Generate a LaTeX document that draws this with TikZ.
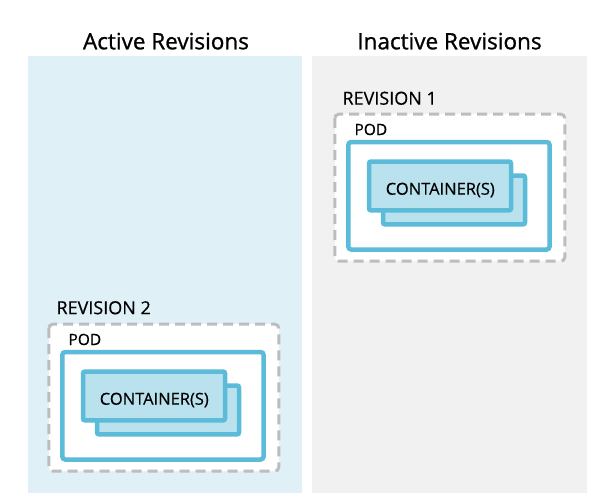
\documentclass[tikz,border=0pt]{standalone}
\usepackage{fontspec}
\setmainfont{Open Sans}
\newfontfamily\titlefont{Open Sans}[FakeBold=1]
\newfontfamily\labelfont{Open Sans}[FakeBold=0.4]
\begin{document}
\begin{tikzpicture}[x=1pt,y=-1pt,
  panelA/.style={fill=activebg,draw=none},
  panelB/.style={fill=inactivebg,draw=none},
  revbox/.style={draw=dashgray,fill=white,line width=3pt,dash pattern=on 10pt off 6pt,rounded corners=4pt},
  podbox/.style={draw=azure,fill=white,line width=4.5pt,rounded corners=3pt},
  contbox/.style={draw=azure,fill=lightazure,line width=4.5pt,rounded corners=2pt},
  title/.style={anchor=base,inner sep=0pt,font=\titlefont\fontsize{22.5}{26}\selectfont,text=black},
  revlabel/.style={anchor=base west,inner sep=0pt,font=\labelfont\fontsize{18}{21}\selectfont,text=black},
  podlabel/.style={anchor=base west,inner sep=0pt,font=\labelfont\fontsize{15.5}{18}\selectfont,text=black},
  contlabel/.style={anchor=base,inner sep=0pt,font=\labelfont\fontsize{16.5}{19}\selectfont,text=black}
]
\definecolor{activebg}{HTML}{DFF0F7}
\definecolor{inactivebg}{HTML}{F1F1F1}
\definecolor{dashgray}{HTML}{BDBDBD}
\definecolor{azure}{HTML}{5BBBD8}
\definecolor{lightazure}{HTML}{B9E1EE}
\useasboundingbox (0,0) rectangle (613,501);
\fill[white] (0,0) rectangle (613,501);
% panels
\path[panelA] (28,55.7) rectangle (301.7,492.7);
\path[panelB] (312,55.7) rectangle (586.7,492.7);
\node[title] (tA) at (166,49.3) {Active Revisions};
\node[title] (tB) at (449.5,49.3) {Inactive Revisions};
% revision 1
\begin{scope}[shift={(333.3,112.7)}]
  \draw[revbox] (1.5,1.5) rectangle (231.5,148.5);
  \node[revlabel] (rev1) at (9,-8) {REVISION 1};
  \node[podlabel] (pod1) at (21,22.3) {POD};
  \draw[podbox] (15,29.3) rectangle (216.3,136.8);
  \draw[contbox] (49.7,62.8) rectangle (191.7,111.7);
  \draw[contbox] (35.7,48.8) rectangle (177.7,97.7);
  \node[contlabel] (c1) at (107,82) {CONTAINER(S)};
\end{scope}
% revision 2
\begin{scope}[shift={(47.3,322.7)}]
  \draw[revbox] (1.5,1.5) rectangle (231.5,148.5);
  \node[revlabel] (rev2) at (9,-8.5) {REVISION 2};
  \node[podlabel] (pod2) at (21,22.3) {POD};
  \draw[podbox] (15,29.3) rectangle (216.3,136.8);
  \draw[contbox] (49.7,62.8) rectangle (191.7,111.7);
  \draw[contbox] (35.7,48.8) rectangle (177.7,97.7);
  \node[contlabel] (c2) at (107,82) {CONTAINER(S)};
\end{scope}
\end{tikzpicture}
\end{document}
